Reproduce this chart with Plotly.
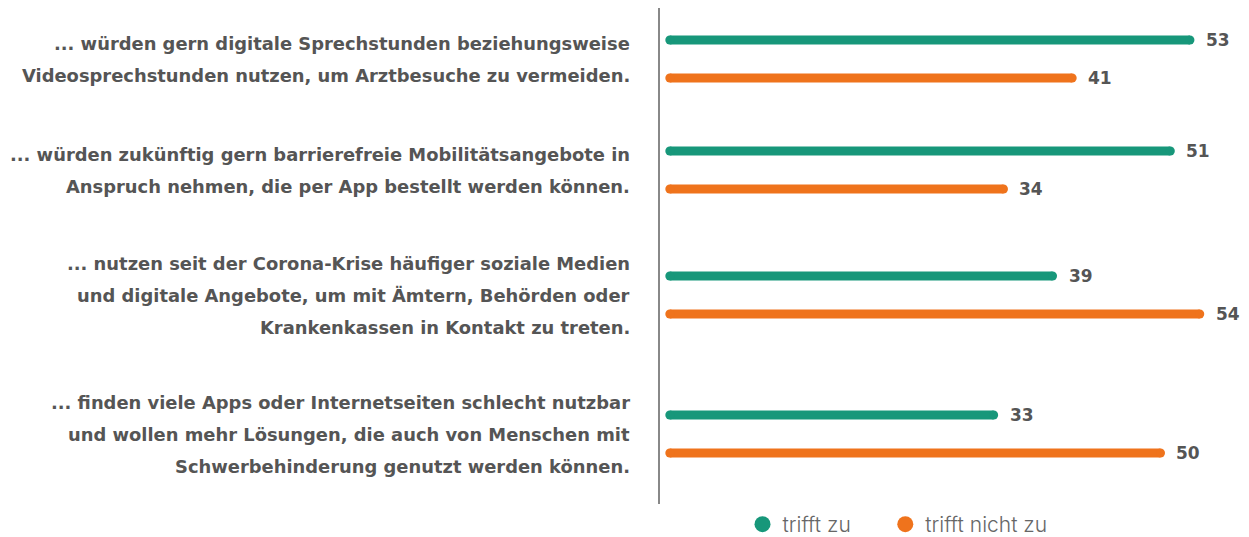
import plotly.graph_objects as go

# ---- data ----
label_lines = [
    ["... würden gern digitale Sprechstunden beziehungsweise",
     "Videosprechstunden nutzen, um Arztbesuche zu vermeiden."],
    ["... würden zukünftig gern barrierefreie Mobilitätsangebote in",
     "Anspruch nehmen, die per App bestellt werden können."],
    ["... nutzen seit der Corona-Krise häufiger soziale Medien",
     "und digitale Angebote, um mit Ämtern, Behörden oder",
     "Krankenkassen in Kontakt zu treten."],
    ["... finden viele Apps oder Internetseiten schlecht nutzbar",
     "und wollen mehr Lösungen, die auch von Menschen mit",
     "Schwerbehinderung genutzt werden können."],
]
trifft_zu = [53, 51, 39, 33]
trifft_nicht_zu = [41, 34, 54, 50]
series_names = ["trifft zu", "trifft nicht zu"]

# ---- style ----
GREEN = "#17977a"
ORANGE = "#ef731c"
TEXT = "#555555"
FONT = "DejaVu Sans"
BAR_W = 9
LINE_GAP = 32       # px between label lines
PAIR_OFF = 19       # px half-distance between the two bars of a row
LEGEND_PAD = "\u00a0" * 5   # spacing between legend entries

# row centres (y axis in pixel-like units, reversed) derived from label line counts
centres = []
c = 51
for i, lines in enumerate(label_lines):
    if i > 0:
        c += 55 + 28 * (len(label_lines[i - 1]) + len(lines)) / 2
    centres.append(c)

fig = go.Figure()

series = [(series_names[0] + LEGEND_PAD, trifft_zu, GREEN, -PAIR_OFF),
          (series_names[1], trifft_nicht_zu, ORANGE, PAIR_OFF)]

for name, vals, col, off in series:
    xs, ys = [], []
    for v, cy in zip(vals, centres):
        xs += [0, v, None]
        ys += [cy + off, cy + off, None]
    fig.add_trace(go.Scatter(
        x=xs, y=ys, mode="lines+markers",
        line=dict(color=col, width=BAR_W),
        marker=dict(color=col, size=BAR_W),
        showlegend=False, hoverinfo="skip"))
    # legend entry
    fig.add_trace(go.Scatter(
        x=[None], y=[None], mode="markers", name=name,
        marker=dict(color=col, size=22)))
    for v, cy in zip(vals, centres):
        fig.add_annotation(
            x=v, y=cy + off, xref="x", yref="y", text=str(v),
            showarrow=False, xanchor="left", yanchor="middle", xshift=14,
            font=dict(family=FONT, size=17, color=TEXT, weight="bold"))

# category labels, one annotation per line for the wide line spacing
for lines, cy in zip(label_lines, centres):
    n = len(lines)
    for j, ln in enumerate(lines):
        fig.add_annotation(
            x=0, y=cy, xref="paper", yref="y", text=ln, showarrow=False,
            xanchor="right", yanchor="middle", xshift=-28,
            yshift=-(j - (n - 1) / 2) * LINE_GAP,
            font=dict(family=FONT, size=17.9, color=TEXT, weight="bold"))

fig.update_layout(
    width=1249, height=537,
    margin=dict(l=660, r=10, t=8, b=33, autoexpand=False),
    paper_bgcolor="white", plot_bgcolor="white",
    showlegend=True,
    legend=dict(orientation="h", x=0.1425, xanchor="left", y=0.0, yanchor="top",
                font=dict(family="Inter", size=21, color="#666666", weight=300),
                itemclick=False, itemdoubleclick=False),
    xaxis=dict(range=[-1, 58], showgrid=False, zeroline=False,
               showticklabels=False, showline=False, ticks=""),
    yaxis=dict(range=[496, 0], showgrid=False, zeroline=False,
               showticklabels=False, ticks="", showline=True,
               linecolor="#888888", linewidth=2),
)

fig.write_html("out.html", config={"displayModeBar": False},
               post_script="document.body.style.margin='0';")
